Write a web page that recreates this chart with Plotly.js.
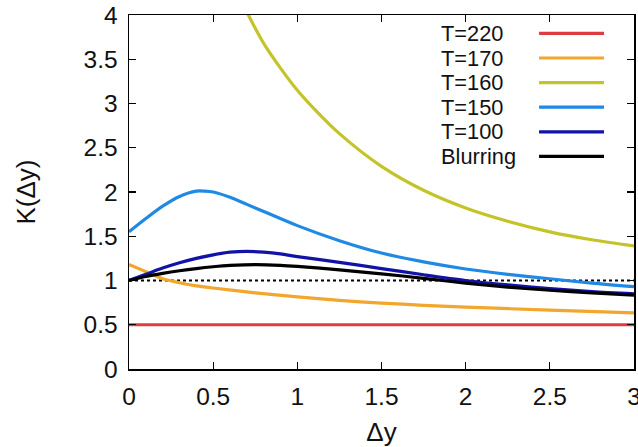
<!DOCTYPE html>
<html>
<head>
<meta charset="utf-8">
<script src="https://cdn.plot.ly/plotly-3.0.1.min.js"></script>
<style>
  html, body { margin: 0; padding: 0; background: #fff; }
  #plot { width: 638px; height: 447px; }
</style>
</head>
<body>
<div id="plot"></div>
<script>
// Kernel K(Δy) for several temperatures and the blurring kernel
const seriesNames = ["T=220", "T=170", "T=160", "T=150", "T=100", "Blurring"];
const seriesColors = ["#e03c3f", "#f2a72c", "#c4c42a", "#2089e3", "#1212a6", "#000000"];

const xT220 = [0, 3];
const yT220 = [0.5, 0.5];

const xT170 = [0, 0.1, 0.2, 0.3, 0.4, 0.5, 0.75, 1.0, 1.25, 1.5, 1.75, 2.0, 2.5, 3.0];
const yT170 = [1.18, 1.10, 1.02, 0.975, 0.94, 0.915, 0.86, 0.815, 0.775, 0.745, 0.72, 0.70, 0.665, 0.635];

const xT160 = [0.69, 0.75, 0.8, 0.9, 1.0, 1.1, 1.25, 1.5, 1.75, 2.0, 2.25, 2.5, 2.75, 3.0];
const yT160 = [4.07, 3.85, 3.68, 3.40, 3.15, 2.94, 2.66, 2.29, 2.02, 1.82, 1.67, 1.55, 1.46, 1.39];

const xT150 = [0, 0.1, 0.2, 0.3, 0.4, 0.45, 0.5, 0.6, 0.7, 0.8, 1.0, 1.25, 1.5, 1.75, 2.0, 2.25, 2.5, 2.75, 3.0];
const yT150 = [1.55, 1.70, 1.84, 1.95, 2.01, 2.01, 2.00, 1.94, 1.86, 1.78, 1.62, 1.45, 1.31, 1.21, 1.13, 1.07, 1.02, 0.97, 0.93];

const xT100 = [0, 0.1, 0.2, 0.3, 0.4, 0.5, 0.6, 0.7, 0.8, 0.9, 1.0, 1.25, 1.5, 1.75, 2.0, 2.25, 2.5, 2.75, 3.0];
const yT100 = [1.0, 1.07, 1.14, 1.20, 1.25, 1.29, 1.32, 1.33, 1.32, 1.30, 1.27, 1.205, 1.135, 1.065, 1.0, 0.95, 0.91, 0.875, 0.85];

const xBlur = [0, 0.1, 0.2, 0.3, 0.4, 0.5, 0.6, 0.75, 0.9, 1.0, 1.25, 1.5, 1.75, 2.0, 2.25, 2.5, 2.75, 3.0];
const yBlur = [1.0, 1.045, 1.08, 1.11, 1.135, 1.155, 1.17, 1.18, 1.172, 1.16, 1.12, 1.075, 1.025, 0.97, 0.925, 0.89, 0.86, 0.835];

// reference level K = 1
const xRef = [0, 3];
const yRef = [1, 1];

const xTicks = [0, 0.5, 1, 1.5, 2, 2.5, 3];
const yTicks = [0, 0.5, 1, 1.5, 2, 2.5, 3, 3.5, 4];

const xs = [xT220, xT170, xT160, xT150, xT100, xBlur];
const ys = [yT220, yT170, yT160, yT150, yT100, yBlur];

const FONT = "Liberation Sans, Arial, sans-serif";

const traces = [{
  x: xRef, y: yRef, mode: "lines", showlegend: false, hoverinfo: "skip",
  line: { color: "#000", width: 2, dash: "dot" }
}];
for (let i = 0; i < seriesNames.length; i++) {
  traces.push({
    x: xs[i], y: ys[i], name: seriesNames[i], mode: "lines",
    line: { color: seriesColors[i], width: 3.2, shape: "spline", smoothing: 0.8 },
    showlegend: false
  });
}

// key drawn inside the upper right corner: label, then a line sample
const annotations = [];
const shapes = [];
const keyTop = 0.948, keyStep = 0.0695;
for (let i = 0; i < seriesNames.length; i++) {
  const yk = keyTop - i * keyStep;
  annotations.push({
    xref: "paper", yref: "paper", x: 0.6158, y: yk, xanchor: "left", yanchor: "middle",
    borderpad: 0, text: seriesNames[i], showarrow: false,
    font: { family: FONT, size: 21.8, color: "#111" }
  });
  shapes.push({
    type: "line", xref: "paper", yref: "paper", x0: 0.812, x1: 0.9406, y0: yk, y1: yk,
    line: { color: seriesColors[i], width: 3.2 }
  });
}

const layout = {
  width: 638, height: 447,
  margin: { l: 129, r: 4, t: 15, b: 78 },
  paper_bgcolor: "#fff", plot_bgcolor: "#fff",
  font: { family: FONT, size: 24.5, color: "#111" },
  showlegend: false,
  xaxis: {
    range: [0, 3], tickvals: xTicks, ticktext: xTicks.map(String),
    showgrid: false, zeroline: false, showline: true, linecolor: "#000", linewidth: 1.5,
    mirror: "allticks", ticks: "inside", ticklen: 7, tickwidth: 1.2, tickcolor: "#000",
    ticklabelstandoff: 5, ticklabeloverflow: "allow",
    title: { text: "Δy", font: { family: FONT, size: 26 }, standoff: 20 }
  },
  yaxis: {
    range: [0, 4], tickvals: yTicks, ticktext: yTicks.map(String),
    showgrid: false, zeroline: false, showline: true, linecolor: "#000", linewidth: 1.5,
    mirror: "allticks", ticks: "inside", ticklen: 7, tickwidth: 1.2, tickcolor: "#000",
    ticklabelstandoff: 5,
    title: { text: "K(Δy)", font: { family: FONT, size: 26 }, standoff: 40 }
  },
  annotations: annotations,
  shapes: shapes
};

Plotly.newPlot("plot", traces, layout, { staticPlot: true, displayModeBar: false });
</script>
</body>
</html>
